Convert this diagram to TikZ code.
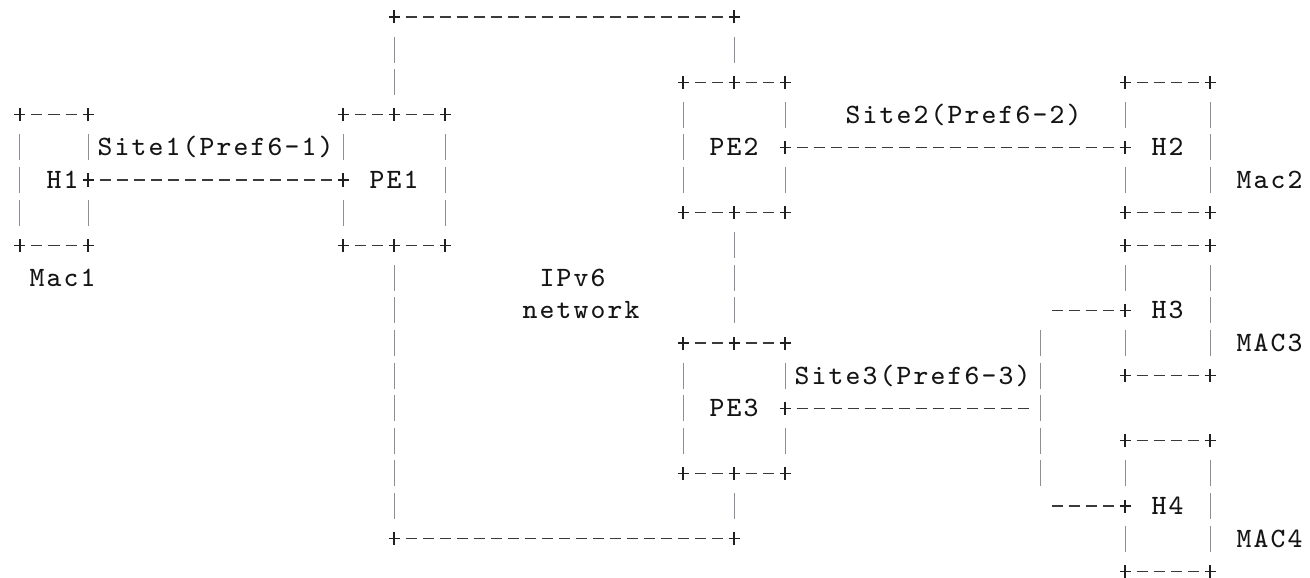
\documentclass[tikz,border=0pt]{standalone}
\usepackage{fontspec}
\newfontfamily\gridfont{lmmono8-regular.otf}
\definecolor{inkcol}{HTML}{151515}
\definecolor{dashcol}{HTML}{3A3A3A}
\definecolor{barcol}{HTML}{8A8E96}
\definecolor{pluscol}{HTML}{202020}
% typeset a word one character per 17pt cell (fixed character grid)
\makeatletter
\let\gridtext@end\relax
\def\gridtext#1{\gridtext@#1\gridtext@end}
\def\gridtext@#1{\ifx#1\gridtext@end\else\makebox[17pt][c]{#1}\expandafter\gridtext@\fi}
\makeatother
\tikzset{
  asciiplus/.pic={\draw[pluscol,line width=1.1pt] (-5.5pt,0pt) -- (5.5pt,0pt) (0pt,-6.5pt) -- (0pt,6.5pt);},
  % horizontal run of "-" between two grid cells
  hl/.style={draw=dashcol,line width=1.3pt,dash pattern=on 11pt off 6pt,shorten <=11.5pt,shorten >=11.5pt},
  % vertical run of "|" between two grid cells
  vl/.style={draw=barcol,line width=1pt,dash pattern=on 26pt off 6.6pt,shorten <=19.6pt,shorten >=19.6pt},
  lbl/.style={inner sep=0pt,outer sep=0pt,anchor=base,yshift=-8.5pt,text=inkcol,font=\gridfont\fontsize{28pt}{28pt}\selectfont},
  boxn/.style={draw=none,inner sep=0pt,outer sep=0pt,minimum height=130.4pt},
}
\begin{document}
\begin{tikzpicture}[x=17pt,y={(0pt,-32.6pt)}]
\useasboundingbox[fill=white] (-20pt,17pt) rectangle (1290pt,-561pt);

% boxes (columns x rows of the character grid)
\node[boxn,minimum width=68pt]  (H1box)  at (2,5)    {};
\node[boxn,minimum width=102pt] (PE1box) at (22,5)   {};
\node[boxn,minimum width=102pt] (PE2box) at (42,4)   {};
\node[boxn,minimum width=102pt] (PE3box) at (42,12)  {};
\node[boxn,minimum width=85pt]  (H2box)  at (67.5,4) {};
\node[boxn,minimum width=85pt]  (H3box)  at (67.5,9) {};
\node[boxn,minimum width=85pt]  (H4box)  at (67.5,15){};

% IPv6 network loop corners and site 3 trunk
\coordinate (core-nw) at (22,0);
\coordinate (core-ne) at (42,0);
\coordinate (core-sw) at (22,16);
\coordinate (core-se) at (42,16);
\coordinate (trunk-t) at (60,10);
\coordinate (trunk-m) at (60,12);
\coordinate (trunk-b) at (60,14);
\coordinate (tap3) at (60,9);
\coordinate (tap4) at (60,15);

% labels
\node[lbl] (H1)  at (2.5,5)  {\gridtext{H1}};
\node[lbl] (PE1) at (22,5)   {\gridtext{PE1}};
\node[lbl] (PE2) at (42,4)   {\gridtext{PE2}};
\node[lbl] (PE3) at (42,12)  {\gridtext{PE3}};
\node[lbl] (H2)  at (67.5,4) {\gridtext{H2}};
\node[lbl] (H3)  at (67.5,9) {\gridtext{H3}};
\node[lbl] (H4)  at (67.5,15){\gridtext{H4}};
\node[lbl] (mac1) at (2.5,8)  {\gridtext{Mac1}};
\node[lbl] (mac2) at (73.5,5) {\gridtext{Mac2}};
\node[lbl] (mac3) at (73.5,10){\gridtext{MAC3}};
\node[lbl] (mac4) at (73.5,16){\gridtext{MAC4}};
\node[lbl] (site1) at (11.5,4) {\gridtext{Site1(Pref6-1)}};
\node[lbl] (site2) at (55.5,3) {\gridtext{Site2(Pref6-2)}};
\node[lbl] (site3) at (52.5,11){\gridtext{Site3(Pref6-3)}};
\node[lbl] (net1) at (32.5,8) {\gridtext{IPv6}};
\node[lbl] (net2) at (33,9)   {\gridtext{network}};

% box borders
\draw[hl] (H1box.north west) -- (H1box.north east);
\draw[hl] (H1box.south west) -- (H1box.south east);
\draw[vl] (H1box.north west) -- (H1box.south west);
\draw[vl] (H1box.north east) -- (H1box.east);
\draw[vl] (H1box.east) -- (H1box.south east);

\draw[hl] (PE1box.north west) -- (PE1box.north);
\draw[hl] (PE1box.north) -- (PE1box.north east);
\draw[hl] (PE1box.south west) -- (PE1box.south);
\draw[hl] (PE1box.south) -- (PE1box.south east);
\draw[vl] (PE1box.north west) -- (PE1box.west);
\draw[vl] (PE1box.west) -- (PE1box.south west);
\draw[vl] (PE1box.north east) -- (PE1box.south east);

\foreach \b in {PE2box,PE3box}{
  \draw[hl] (\b.north west) -- (\b.north);
  \draw[hl] (\b.north) -- (\b.north east);
  \draw[hl] (\b.south west) -- (\b.south);
  \draw[hl] (\b.south) -- (\b.south east);
  \draw[vl] (\b.north west) -- (\b.south west);
  \draw[vl] (\b.north east) -- (\b.east);
  \draw[vl] (\b.east) -- (\b.south east);
}

\foreach \b in {H2box,H3box,H4box}{
  \draw[hl] (\b.north west) -- (\b.north east);
  \draw[hl] (\b.south west) -- (\b.south east);
  \draw[vl] (\b.north west) -- (\b.west);
  \draw[vl] (\b.west) -- (\b.south west);
  \draw[vl] (\b.north east) -- (\b.south east);
}

% IPv6 network loop
\draw[hl] (core-nw) -- (core-ne);
\draw[vl] (core-nw) -- (PE1box.north);
\draw[vl] (core-ne) -- (PE2box.north);
\draw[vl] (PE2box.south) -- (PE3box.north);
\draw[vl] (PE1box.south) -- (core-sw);
\draw[vl] (PE3box.south) -- (core-se);
\draw[hl] (core-sw) -- (core-se);

% site links
\draw[hl] (H1box.east) -- (PE1box.west);
\draw[hl] (PE2box.east) -- (H2box.west);
\draw[hl] (PE3box.east) -- (trunk-m);
\draw[vl,shorten <=-13pt,shorten >=-13pt] (trunk-t) -- (trunk-b);
\draw[hl] (tap3) -- (H3box.west);
\draw[hl] (tap4) -- (H4box.west);

% corner and junction marks
\foreach \p in {H1box.north west,H1box.north east,H1box.east,H1box.south west,H1box.south east,
  PE1box.north west,PE1box.north,PE1box.north east,PE1box.west,PE1box.south west,PE1box.south,PE1box.south east,
  PE2box.north west,PE2box.north,PE2box.north east,PE2box.east,PE2box.south west,PE2box.south,PE2box.south east,
  PE3box.north west,PE3box.north,PE3box.north east,PE3box.east,PE3box.south west,PE3box.south,PE3box.south east,
  H2box.north west,H2box.north east,H2box.west,H2box.south west,H2box.south east,
  H3box.north west,H3box.north east,H3box.west,H3box.south west,H3box.south east,
  H4box.north west,H4box.north east,H4box.west,H4box.south west,H4box.south east,
  core-nw,core-ne,core-sw,core-se}
  \pic at (\p) {asciiplus};
\end{tikzpicture}
\end{document}
